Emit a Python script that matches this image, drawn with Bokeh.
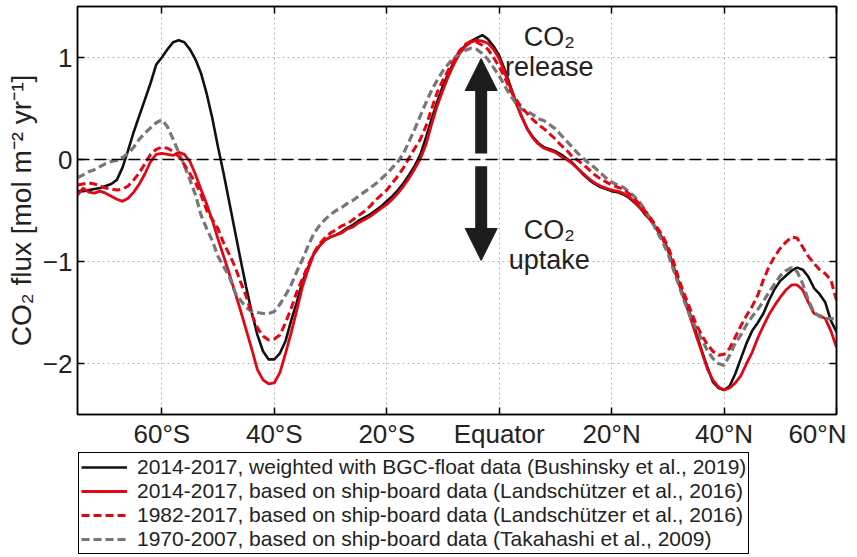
from bokeh.plotting import figure
from bokeh.layouts import column
from bokeh.models import (FixedTicker, LinearAxis, Span, Legend, LegendItem,
                          Arrow, NormalHead, Label, Range1d)
from bokeh.embed import file_html
from bokeh.resources import INLINE

# ---------------- data ----------------
lat = list(range(-75, 61))  # 1-degree latitude bins, 75S .. 60N

# 2014-2017, weighted with BGC-float data (Bushinsky et al., 2019)
bushinsky = [
    -0.31, -0.31, -0.30, -0.29, -0.28, -0.26, -0.24, -0.20, -0.08, 0.09,    # -75..-66
    0.27, 0.43, 0.59, 0.75, 0.93, 1.00, 1.08, 1.15, 1.17, 1.15,             # -65..-56
    1.08, 0.98, 0.84, 0.64, 0.40, 0.12, -0.14, -0.42, -0.70, -0.98,         # -55..-46
    -1.25, -1.50, -1.72, -1.88, -1.96, -1.96, -1.90, -1.78, -1.58, -1.40,   # -45..-36
    -1.20, -1.06, -0.93, -0.85, -0.79, -0.76, -0.74, -0.71, -0.67, -0.64,   # -35..-26
    -0.60, -0.57, -0.54, -0.50, -0.46, -0.41, -0.36, -0.30, -0.23, -0.15,   # -25..-16
    -0.06, 0.05, 0.22, 0.40, 0.57, 0.72, 0.85, 0.96, 1.06, 1.12,            # -15..-6
    1.16, 1.19, 1.22, 1.18, 1.11, 1.02, 0.88, 0.72, 0.56, 0.42,             # -5..4
    0.30, 0.22, 0.16, 0.12, 0.10, 0.08, 0.05, 0.01, -0.03, -0.09,           # 5..14
    -0.15, -0.20, -0.24, -0.27, -0.29, -0.31, -0.32, -0.34, -0.37, -0.42,   # 15..24
    -0.47, -0.54, -0.60, -0.68, -0.77, -0.88, -1.05, -1.22, -1.37, -1.52,   # 25..34
    -1.69, -1.87, -2.03, -2.18, -2.24, -2.26, -2.22, -2.10, -1.95, -1.80,   # 35..44
    -1.68, -1.60, -1.51, -1.38, -1.27, -1.19, -1.14, -1.09, -1.06, -1.08,   # 45..54
    -1.15, -1.26, -1.32, -1.40, -1.58, -1.69,                               # 55..60
]

# 2014-2017, based on ship-board data (Landschuetzer et al., 2016)
landschuetzer_2014 = [
    -0.35, -0.28, -0.32, -0.33, -0.31, -0.33, -0.36, -0.39, -0.41, -0.38,
    -0.32, -0.24, -0.14, -0.02, 0.05, 0.06, 0.05, 0.04, 0.07, 0.05,
    -0.02, -0.15, -0.30, -0.44, -0.60, -0.78, -0.95, -1.12, -1.30, -1.48,
    -1.67, -1.86, -2.06, -2.16, -2.20, -2.19, -2.09, -1.90, -1.70, -1.48,
    -1.25, -1.08, -0.93, -0.85, -0.79, -0.76, -0.74, -0.72, -0.68, -0.66,
    -0.62, -0.59, -0.56, -0.52, -0.48, -0.44, -0.39, -0.33, -0.26, -0.18,
    -0.09, 0.01, 0.15, 0.35, 0.53, 0.68, 0.82, 0.94, 1.04, 1.11,
    1.15, 1.17, 1.16, 1.14, 1.08, 0.99, 0.85, 0.70, 0.55, 0.42,
    0.30, 0.21, 0.15, 0.11, 0.09, 0.07, 0.03, 0.00, -0.04, -0.09,
    -0.14, -0.19, -0.23, -0.26, -0.28, -0.30, -0.31, -0.33, -0.36, -0.41,
    -0.47, -0.53, -0.60, -0.68, -0.77, -0.88, -1.05, -1.22, -1.38, -1.55,
    -1.72, -1.88, -2.05, -2.16, -2.23, -2.26, -2.24, -2.19, -2.12, -2.00,
    -1.89, -1.75, -1.63, -1.52, -1.43, -1.35, -1.28, -1.23, -1.23, -1.28,
    -1.40, -1.51, -1.53, -1.56, -1.68, -1.84,
]

# 1982-2017, based on ship-board data (Landschuetzer et al., 2016)
landschuetzer_1982 = [
    -0.25, -0.24, -0.23, -0.24, -0.26, -0.28, -0.29, -0.30, -0.29, -0.26,
    -0.20, -0.13, -0.04, 0.05, 0.10, 0.12, 0.11, 0.08, 0.03, -0.05,
    -0.14, -0.23, -0.35, -0.50, -0.59, -0.68, -0.82, -0.93, -1.05, -1.20,
    -1.34, -1.52, -1.65, -1.73, -1.77, -1.76, -1.72, -1.60, -1.46, -1.30,
    -1.17, -1.04, -0.92, -0.83, -0.77, -0.72, -0.69, -0.65, -0.63, -0.59,
    -0.55, -0.51, -0.46, -0.40, -0.35, -0.30, -0.23, -0.16, -0.08, 0.02,
    0.11, 0.20, 0.33, 0.50, 0.66, 0.78, 0.88, 0.98, 1.07, 1.13,
    1.16, 1.15, 1.12, 1.08, 1.00, 0.91, 0.80, 0.68, 0.59, 0.51,
    0.45, 0.39, 0.34, 0.30, 0.25, 0.20, 0.14, 0.09, 0.03, -0.01,
    -0.05, -0.10, -0.15, -0.19, -0.22, -0.25, -0.27, -0.29, -0.33, -0.38,
    -0.44, -0.51, -0.58, -0.66, -0.74, -0.85, -1.00, -1.18, -1.33, -1.47,
    -1.61, -1.72, -1.81, -1.88, -1.92, -1.91, -1.85, -1.74, -1.63, -1.53,
    -1.44, -1.33, -1.18, -1.05, -0.95, -0.87, -0.81, -0.76, -0.77, -0.86,
    -0.95, -1.02, -1.08, -1.12, -1.18, -1.38,
]

# 1970-2007, based on ship-board data (Takahashi et al., 2009)
takahashi = [
    -0.18, -0.15, -0.12, -0.10, -0.07, -0.04, -0.02, -0.01, 0.02, 0.06,
    0.12, 0.20, 0.26, 0.31, 0.36, 0.39, 0.32, 0.20, 0.07, -0.06,
    -0.20, -0.35, -0.55, -0.68, -0.80, -0.95, -1.05, -1.15, -1.30, -1.38,
    -1.45, -1.49, -1.50, -1.51, -1.51, -1.49, -1.42, -1.33, -1.23, -1.10,
    -0.98, -0.85, -0.73, -0.65, -0.59, -0.54, -0.50, -0.47, -0.43, -0.40,
    -0.36, -0.32, -0.28, -0.24, -0.19, -0.14, -0.08, -0.02, 0.06, 0.18,
    0.30, 0.43, 0.56, 0.68, 0.78, 0.87, 0.94, 1.00, 1.04, 1.07,
    1.09, 1.08, 1.04, 0.98, 0.90, 0.82, 0.72, 0.63, 0.55, 0.49,
    0.47, 0.44, 0.40, 0.38, 0.34, 0.30, 0.24, 0.18, 0.12, 0.06,
    0.01, -0.04, -0.08, -0.13, -0.18, -0.22, -0.25, -0.27, -0.31, -0.36,
    -0.42, -0.50, -0.59, -0.70, -0.80, -0.92, -1.08, -1.24, -1.40, -1.54,
    -1.65, -1.76, -1.87, -1.95, -2.00, -2.02, -1.92, -1.80, -1.72, -1.62,
    -1.54, -1.47, -1.39, -1.30, -1.22, -1.14, -1.09, -1.06, -1.10, -1.22,
    -1.38, -1.50, -1.54, -1.56, -1.56, -1.56,
]

series_values = [bushinsky, landschuetzer_2014, landschuetzer_1982, takahashi]
series_labels = [
    "2014-2017, weighted with BGC-float data (Bushinsky et al., 2019)",
    "2014-2017, based on ship-board data (Landschützer et al., 2016)",
    "1982-2017, based on ship-board data (Landschützer et al., 2016)",
    "1970-2007, based on ship-board data (Takahashi et al., 2009)",
]

x_ticks = [-60, -40, -20, 0, 20, 40, 60]
x_tick_labels = ["60°S", "40°S", "20°S", "Equator", "20°N", "40°N", "60°N"]
y_ticks = [-2, -1, 0, 1]
y_tick_labels = ["−2", "−1", "0", "1"]

# ---------------- styling ----------------
FONT = "Liberation Sans"
BLACK = "#111111"
RED = "#e30613"
GRAY = "#777777"
ARROW = "#1d1d1b"
TEXT = "#222222"

STYLES = [
    dict(line_color=BLACK, line_width=2.6),
    dict(line_color=RED, line_width=2.8),
    dict(line_color=RED, line_width=3, line_dash="8 4"),
    dict(line_color=GRAY, line_width=3.2, line_dash="8 4"),
]

p = figure(frame_width=759, frame_height=408,
           x_range=Range1d(-75, 60), y_range=Range1d(-2.5, 1.5),
           output_backend="svg", toolbar_location=None,
           min_border_left=77, min_border_right=10, min_border_top=6, min_border_bottom=33)
p.outline_line_color = "black"
p.outline_line_width = 1.5
p.background_fill_color = "white"

# axes
p.xaxis.ticker = FixedTicker(ticks=x_ticks)
p.xaxis.major_label_overrides = dict(zip(x_ticks, x_tick_labels))
p.yaxis.ticker = FixedTicker(ticks=y_ticks)
p.yaxis.major_label_overrides = dict(zip(y_ticks, y_tick_labels))
for ax in (p.xaxis[0], p.yaxis[0]):
    ax.major_tick_in = 7
    ax.major_tick_out = 0
    ax.minor_tick_in = 0
    ax.minor_tick_out = 0
    ax.axis_line_width = 1.5
    ax.major_tick_line_width = 1.5
    ax.major_label_text_font = FONT
    ax.major_label_text_font_size = "26px"
    ax.major_label_text_color = TEXT
p.xaxis.major_label_standoff = 4
p.yaxis.major_label_standoff = 5
p.yaxis.axis_label = "CO₂ flux [mol m⁻² yr⁻¹]"
p.yaxis.axis_label_text_font = FONT
p.yaxis.axis_label_text_font_size = "28px"
p.yaxis.axis_label_text_font_style = "normal"
p.yaxis.axis_label_text_color = TEXT
p.yaxis.axis_label_standoff = 3

top_axis = LinearAxis(ticker=FixedTicker(ticks=x_ticks),
                      major_label_overrides={t: "" for t in x_ticks},
                      major_tick_in=7, major_tick_out=0, minor_tick_in=0, minor_tick_out=0,
                      major_label_standoff=0, axis_line_width=1.5, major_tick_line_width=1.5)
right_axis = LinearAxis(ticker=FixedTicker(ticks=y_ticks),
                        major_label_overrides={t: "" for t in y_ticks},
                        major_tick_in=7, major_tick_out=0, minor_tick_in=0, minor_tick_out=0,
                        major_label_standoff=0, axis_line_width=1.5, major_tick_line_width=1.5)
p.add_layout(top_axis, "above")
p.add_layout(right_axis, "right")

# grid
p.xgrid.ticker = FixedTicker(ticks=x_ticks)
p.ygrid.ticker = FixedTicker(ticks=y_ticks)
for g in (p.xgrid[0], p.ygrid[0]):
    g.grid_line_color = "#b5b5b5"
    g.grid_line_dash = "2 3"
    g.grid_line_width = 1

p.add_layout(Span(location=0, dimension="width", line_color="black",
                  line_dash="12 5", line_width=1.5))

# series (drawing order: solid lines first, dashed on top)
for idx in (0, 1, 3, 2):
    p.line(lat, series_values[idx], **STYLES[idx])

# arrows and annotation
p.add_layout(Arrow(end=NormalHead(size=32, fill_color=ARROW, line_color=ARROW, line_width=1),
                   x_start=-3.2, y_start=0.06, x_end=-3.2, y_end=0.99,
                   line_color=ARROW, line_width=12))
p.add_layout(Arrow(end=NormalHead(size=32, fill_color=ARROW, line_color=ARROW, line_width=1),
                   x_start=-3.2, y_start=-0.065, x_end=-3.2, y_end=-0.99,
                   line_color=ARROW, line_width=12))

for txt, yy in (("CO₂", 1.2), ("release", 0.91), ("CO₂", -0.69), ("uptake", -0.99)):
    p.add_layout(Label(x=8.9, y=yy, text=txt, text_align="center", text_baseline="alphabetic",
                       text_font=FONT, text_font_size="27px", text_color=TEXT))

# ---------------- legend panel below the chart ----------------
# Hidden copies of the series give the legend its line samples.
leg = figure(width=846, height=107, x_range=Range1d(-75, 60), y_range=Range1d(-2.5, 1.5),
             x_axis_type=None, y_axis_type=None, output_backend="svg", toolbar_location=None,
             min_border_left=77, min_border_right=0, min_border_top=0, min_border_bottom=0)
leg.outline_line_color = None
leg.grid.visible = False
leg_renderers = [leg.line(lat, vals, visible=False, **s) for vals, s in zip(series_values, STYLES)]

legend = Legend(items=[LegendItem(label=lab, renderers=[r])
                       for lab, r in zip(series_labels, leg_renderers)],
                location="top_left", orientation="vertical",
                border_line_color="black", border_line_width=1.5, border_line_alpha=1,
                label_text_font=FONT, label_text_font_size="21px", label_text_color=TEXT,
                glyph_width=46, glyph_height=24, label_height=24, label_standoff=10,
                spacing=0, padding=2, margin=1, background_fill_color="white",
                background_fill_alpha=1)
leg.add_layout(legend, "center")

open("out.html", "w").write(file_html(column(p, leg, spacing=0), INLINE))
